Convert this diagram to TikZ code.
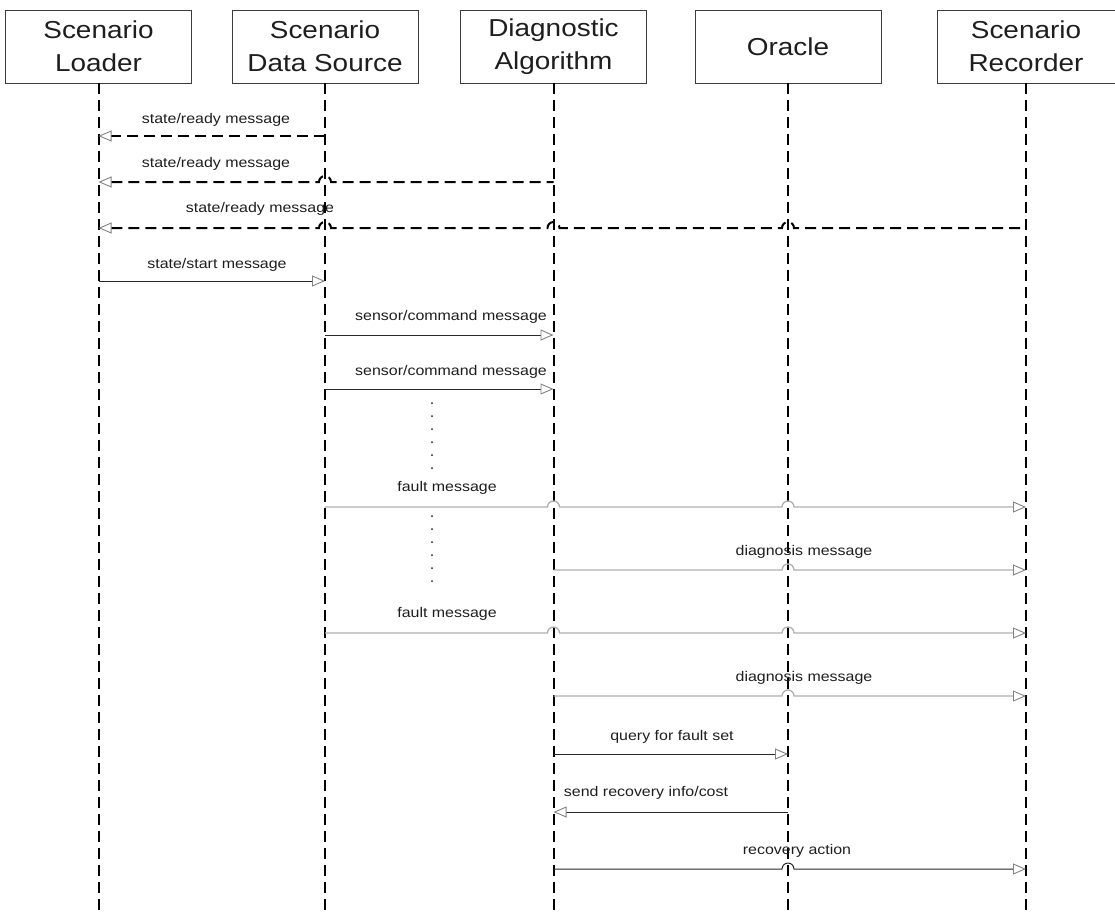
\documentclass[tikz,border=0pt]{standalone}
\usepackage{fontspec}
\setmainfont{Liberation Sans}[FakeStretch=1.14]
\usepackage{tikz}
\usetikzlibrary{arrows.meta,calc}
\definecolor{txt}{RGB}{30,30,30}
\definecolor{boxline}{RGB}{60,60,60}
\definecolor{linedark}{RGB}{40,40,40}
\definecolor{linegray}{RGB}{175,175,175}
\definecolor{tipgray}{RGB}{130,130,130}
% small hop over a lifeline, going right
\newcommand{\hop}[1]{-- ($(#1)+(-6,0)$) arc[start angle=180,end angle=0,radius=6pt]}

\begin{document}
\begin{tikzpicture}[x=1pt,y=-1pt,
  >={Triangle[open,length=13pt,width=11pt,line width=0.9pt,color=tipgray]},
  actor/.style={draw=boxline,line width=0.9pt,minimum width=186pt,minimum height=73pt,
    align=center,text=txt,font=\fontsize{24.5}{33}\selectfont},
  life/.style={line width=2pt,dash pattern=on 11pt off 6pt},
  ready/.style={life},
  call/.style={->,line width=1pt,draw=linedark},
  note/.style={->,line width=1.3pt,draw=linegray},
  msglabel/.style={inner sep=0pt,text=txt,font=\fontsize{14}{16}\selectfont}]
  \useasboundingbox (0,0) rectangle (1115,916);

  % actors
  \node[actor] (loader) at (98.5,46.5) {Scenario\\Loader};
  \node[actor] (source) at (325,46.5) {Scenario\\Data Source};
  \node[actor] (diag) at (553.5,46.5) {Diagnostic\\Algorithm};
  \node[actor] (oracle) at (788,46.5) {Oracle};
  \node[actor,minimum width=178pt] (recorder) at (1026,46.5) {Scenario\\Recorder};

  % lifelines
  \coordinate (bottom) at (0,916);
  \foreach \a in {loader,source,diag,oracle,recorder}
    \draw[life] (\a.south) -- (\a.south |- bottom);

  % message rows
  \foreach \n/\y in {1/136,2/182,3/228,4/281,5/335,6/389,7/507,8/570,9/633,10/696,11/754,12/812,13/869}
    \coordinate (r\n) at (0,\y);

  % ready messages
  \draw[ready,->] (source.south |- r1) -- (loader.south |- r1);
  \node[msglabel] (t1) at (216,120) {state/ready message};
  \draw[ready,<-] (loader.south |- r2) \hop{source.south |- r2} -- (diag.south |- r2);
  \node[msglabel] (t2) at (216,164) {state/ready message};
  \draw[ready,<-] (loader.south |- r3) \hop{source.south |- r3} \hop{diag.south |- r3}
    \hop{oracle.south |- r3} -- (recorder.south |- r3);
  \node[msglabel] (t3) at (260,209) {state/ready message};

  % start
  \draw[call] (loader.south |- r4) -- (source.south |- r4);
  \node[msglabel] (t4) at (217,265) {state/start message};

  % sensor data
  \draw[call] (source.south |- r5) -- (diag.south |- r5);
  \node[msglabel] (t5) at (451,317) {sensor/command message};
  \draw[call] (source.south |- r6) -- (diag.south |- r6);
  \node[msglabel] (t6) at (451,372) {sensor/command message};

  % dots
  \foreach \y in {403,416,...,468}
    \fill[txt] (432,\y) circle (1pt);
  \foreach \y in {516,529,...,581}
    \fill[txt] (432,\y) circle (1pt);

  % faults and diagnoses
  \draw[note] (source.south |- r7) \hop{diag.south |- r7} \hop{oracle.south |- r7} -- (recorder.south |- r7);
  \node[msglabel] (t7) at (447,488) {fault message};
  \draw[note] (diag.south |- r8) \hop{oracle.south |- r8} -- (recorder.south |- r8);
  \node[msglabel] (t8) at (804,552) {diagnosis message};
  \draw[note] (source.south |- r9) \hop{diag.south |- r9} \hop{oracle.south |- r9} -- (recorder.south |- r9);
  \node[msglabel] (t9) at (447,614) {fault message};
  \draw[note] (diag.south |- r10) \hop{oracle.south |- r10} -- (recorder.south |- r10);
  \node[msglabel] (t10) at (804,678) {diagnosis message};

  % recovery
  \draw[call] (diag.south |- r11) -- (oracle.south |- r11);
  \node[msglabel] (t11) at (672,737) {query for fault set};
  \draw[call] (oracle.south |- r12) -- (diag.south |- r12);
  \node[msglabel] (t12) at (646,793) {send recovery info/cost};
  \draw[call] (diag.south |- r13) \hop{oracle.south |- r13} -- (recorder.south |- r13);
  \node[msglabel] (t13) at (797,851) {recovery action};
\end{tikzpicture}
\end{document}
